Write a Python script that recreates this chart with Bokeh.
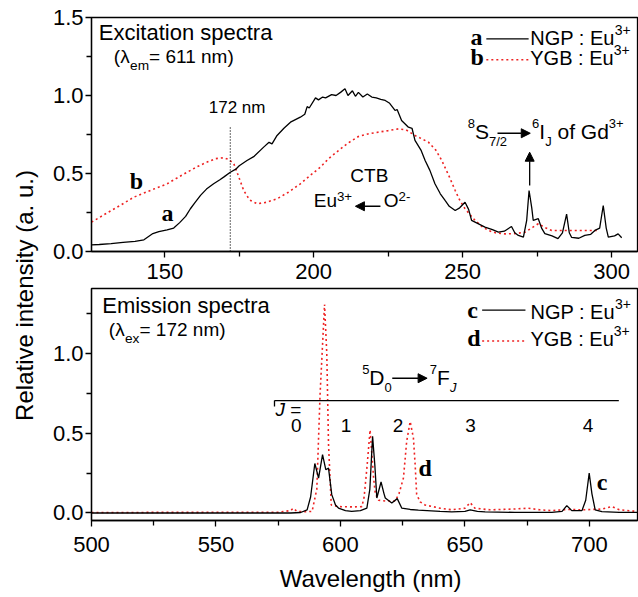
import math
from bokeh.plotting import figure
from bokeh.layouts import row, column
from bokeh.models import FixedTicker, Arrow, NormalHead, PrintfTickFormatter
from bokeh.core.properties import value
from bokeh.embed import file_html
from bokeh.resources import INLINE

# ---------------- data ----------------
# Excitation spectra (lambda_em = 611 nm)
exc_a_x = [125.4, 128, 132, 136, 140, 143, 146, 148, 150.8, 153, 155, 157, 158.6, 160, 162, 164,
           166.4, 168.5, 170, 172, 174, 175, 177.6, 180, 183.2, 185, 186, 187.7, 190, 192.2, 195.5,
           197, 197.8, 198.5, 200.6, 201.6, 203, 204, 206, 207.5, 209, 210.5, 211.5, 213, 214, 215,
           216.5, 218, 219.5, 221, 222.5, 224, 225.5, 227.3, 228, 229.5, 231.8, 233, 234, 236, 237.4,
           239, 240.7, 242.5, 244.1, 245.5, 247.5, 249, 250.8, 252, 253, 255, 257.5, 260, 262, 264,
           266.4, 267.5, 268.7, 270.4, 271.5, 272.3, 273.2, 273.7, 275.4, 276.5, 277.6, 280, 282,
           283.5, 284.9, 285.8, 286.6, 289, 291, 293, 294.4, 296, 297.2, 298.2, 298.9, 301, 302.2, 303.4]
exc_a_y = [0.043, 0.045, 0.050, 0.058, 0.065, 0.075, 0.115, 0.128, 0.139, 0.150, 0.185, 0.225, 0.274,
           0.31, 0.36, 0.40, 0.434, 0.46, 0.48, 0.508, 0.53, 0.55, 0.583, 0.61, 0.669, 0.70, 0.69,
           0.744, 0.79, 0.829, 0.861, 0.88, 0.929, 0.92, 0.985, 0.972, 0.99, 0.985, 1.006, 1.00, 1.02,
           1.043, 1.0, 1.03, 0.995, 1.02, 0.99, 1.01, 0.99, 0.985, 0.975, 0.968, 0.95, 0.904, 0.91,
           0.84, 0.797, 0.79, 0.712, 0.65, 0.583, 0.52, 0.434, 0.37, 0.327, 0.29, 0.263, 0.28, 0.316,
           0.27, 0.199, 0.18, 0.156, 0.14, 0.124, 0.13, 0.160, 0.12, 0.103, 0.092, 0.2, 0.391, 0.28,
           0.199, 0.21, 0.15, 0.115, 0.10, 0.083, 0.12, 0.24, 0.12, 0.09, 0.085, 0.103, 0.11, 0.135,
           0.15, 0.295, 0.15, 0.092, 0.10, 0.113, 0.088]

exc_b_x = [125.4, 130, 135, 139.6, 145, 150.8, 154, 157.5, 161, 164.2, 167, 169.8, 171.5, 173.2, 174.8,
           176.5, 178.5, 181, 184, 187.7, 191.5, 195.5, 199, 202.2, 205, 208.3, 211.5, 215, 218.5,
           221.7, 225, 228.4, 231, 234, 236, 238.5, 241, 243, 245.5, 247.5, 249, 250.8, 254.2, 256.5,
           258.6, 261, 264.2, 268, 271, 273.5, 275.4, 277.5, 279.9, 285, 291, 295]
exc_b_y = [0.188, 0.24, 0.295, 0.348, 0.39, 0.434, 0.47, 0.508, 0.545, 0.573, 0.595, 0.601, 0.59, 0.562,
           0.48, 0.391, 0.33, 0.306, 0.315, 0.338, 0.38, 0.434, 0.49, 0.540, 0.595, 0.647, 0.695,
           0.737, 0.755, 0.765, 0.775, 0.786, 0.78, 0.744, 0.725, 0.701, 0.65, 0.583, 0.48, 0.391,
           0.33, 0.274, 0.199, 0.16, 0.135, 0.12, 0.113, 0.115, 0.124, 0.155, 0.178, 0.155, 0.135,
           0.135, 0.135, 0.135]

# Emission spectra (lambda_ex = 172 nm)
em_c_x = [500, 580, 584, 586.6, 588, 589.7, 591.2, 592.8, 594.1, 595.2, 596.5, 598, 599.2, 602, 604.5,
          608, 610.6, 611.8, 612.9, 613.8, 614.6, 616.3, 617.5, 618, 620.6, 622.8, 624.6, 628, 631.3,
          640, 644.7, 650, 652.1, 655, 658.1, 670, 684.9, 689, 690.9, 692.9, 697, 698.5, 699.9, 701,
          702.3, 705, 712, 719.3]
em_c_y = [0.0, 0.0, 0.003, 0.02, 0.1, 0.31, 0.219, 0.365, 0.271, 0.281, 0.115, 0.05, 0.031, 0.015, 0.01,
          0.015, 0.03, 0.15, 0.48, 0.3, 0.094, 0.194, 0.12, 0.094, 0.0625, 0.09, 0.031, 0.022, 0.018,
          0.01, 0.007, 0.01, 0.02, 0.01, 0.007, 0.004, 0.004, 0.01, 0.046, 0.015, 0.015, 0.08, 0.25,
          0.12, 0.02, 0.008, 0.004, 0.004]

em_d_x = [500, 575, 580, 581, 582.5, 586, 588.6, 590.5, 591.8, 593.6, 594.5, 595.2, 596.3, 599.2, 605,
          608.6, 609.5, 610.6, 611.9, 613.3, 614, 615.3, 618, 622, 623.5, 625.3, 626.6, 628, 629.3,
          630, 630.6, 632, 634, 640, 644.7, 650, 652.1, 654, 660, 670, 675.5, 680, 684.9, 690.9,
          698.3, 705, 709, 712, 719.3]
em_d_y = [0.003, 0.005, 0.015, 0.03, 0.01, 0.008, 0.01, 0.15, 0.74, 1.306, 1.0, 0.43, 0.05, 0.04, 0.038,
          0.04, 0.1, 0.28, 0.52, 0.219, 0.12, 0.08, 0.075, 0.075, 0.12, 0.22, 0.45, 0.573, 0.469,
          0.3, 0.117, 0.07, 0.05, 0.03, 0.02, 0.03, 0.065, 0.03, 0.02, 0.025, 0.03, 0.02, 0.015,
          0.022, 0.02, 0.025, 0.04, 0.02, 0.01]

top_x_ticks = [150, 200, 250, 300]
top_x_minor = [175, 225, 275]
top_y_ticks = [0.0, 0.5, 1.0, 1.5]
top_y_minor = [0.25, 0.75, 1.25]
bot_x_ticks = [500, 550, 600, 650, 700]
bot_x_minor = [525, 575, 625, 675]
bot_y_ticks = [0.0, 0.5, 1.0]
bot_y_minor = [0.25, 0.75, 1.25]

excitation_line_nm = 172
transition_labels = ["0", "1", "2", "3", "4"]
transition_centers_nm = [582.3, 602.2, 623.1, 652.2, 699.4]

# ---------------- helpers ----------------
SANS = value("Liberation Sans")
SERIF = value("Liberation Serif")
RED = "#ee2222"
K = 0.37   # baseline correction (fraction of font size)

WID = {' ': 278, '(': 333, ')': 333, '=': 584, '.': 278, '/': 278, '+': 584, '-': 333, ':': 278,
       'A': 667, 'B': 667, 'C': 722, 'D': 722, 'E': 667, 'F': 611, 'G': 778, 'I': 278, 'J': 500,
       'N': 722, 'O': 778, 'P': 667, 'S': 667, 'T': 611, 'Y': 667, 'a': 556, 'd': 556, 'e': 556,
       'f': 278, 'm': 833, 'n': 556, 'o': 556, 'u': 556, 'x': 500, 'λ': 520}


def tw(s, fs):
    return sum(WID.get(ch, 556) for ch in s) / 1000.0 * fs


def rich(p, x, y, segs, size, raise_=0.5, drop=0.36, small=0.66):
    off = 0.0
    for seg in segs:
        t, kind = seg[0], seg[1]
        style = seg[2] if len(seg) > 2 else "normal"
        if kind == "n":
            fs, dy = size, 0.0
        elif kind == "sup":
            fs, dy = size * small, -size * raise_
        else:
            fs, dy = size * small, size * drop
        lead = len(t) - len(t.lstrip(" "))
        off += tw(" " * lead, fs)
        t = t.lstrip(" ")
        p.text(x=[x], y=[y], text=[t], x_offset=off, y_offset=dy - K * fs, text_font=SANS,
               text_font_size=f"{fs:.1f}px", text_font_style=style, text_color="black",
               text_align="left", text_baseline="alphabetic")
        off += tw(t, fs)


def bold_letter(p, x, y, t):
    p.text(x=[x], y=[y], text=[t], y_offset=-K * 24, text_font=SERIF, text_font_style="bold",
           text_font_size="24px", text_color="black", text_align="left", text_baseline="alphabetic")


def arrow(p, x0, y0, x1, y1):
    p.add_layout(Arrow(end=NormalHead(size=9, line_color="black", fill_color="black", line_width=1),
                       x_start=x0, y_start=y0, x_end=x1, y_end=y1, line_color="black", line_width=1.3))


def style(p, xt, xm, yt, ym, xstand):
    p.outline_line_color = "black"
    p.outline_line_width = 1.3
    p.grid.visible = False
    p.xaxis.ticker = FixedTicker(ticks=xt, minor_ticks=xm)
    p.yaxis.ticker = FixedTicker(ticks=yt, minor_ticks=ym)
    p.yaxis.formatter = PrintfTickFormatter(format="%.1f")
    for ax in list(p.xaxis) + list(p.yaxis):
        ax.axis_line_color = "black"
        ax.axis_line_width = 1.3
        ax.major_tick_line_color = "black"
        ax.minor_tick_line_color = "black"
        ax.major_tick_line_width = 1.3
        ax.minor_tick_line_width = 1.3
        ax.major_tick_in = 0
        ax.minor_tick_in = 0
        ax.major_tick_out = 6
        ax.minor_tick_out = 5
        ax.major_label_text_font = "Liberation Sans"
        ax.major_label_text_font_size = "22px"
        ax.major_label_text_color = "black"
    p.xaxis.major_label_standoff = xstand
    p.yaxis.major_label_standoff = 2


def strip(w, h):
    s = figure(width=w, height=h, x_range=(0, w), y_range=(0, h), min_border=0,
               outline_line_color=None, toolbar_location=None, output_backend="svg",
               x_axis_type=None, y_axis_type=None)
    s.grid.visible = False
    return s


# ---------------- y-axis title strip ----------------
lab = strip(40, 597)
lab.text(x=[24], y=[302], text=["Relative intensity (a. u.)"], angle=math.pi / 2,
         text_align="center", text_baseline="middle", text_font=SANS, text_font_size="24px",
         text_color="black")

# ---------------- top: excitation ----------------
top = figure(width=598, height=287, x_range=(125.4, 308.7), y_range=(0, 1.5),
             min_border_left=51, min_border_right=1, min_border_top=17, min_border_bottom=36,
             toolbar_location=None, output_backend="svg")
style(top, top_x_ticks, top_x_minor, top_y_ticks, top_y_minor, 6)

top.line(exc_b_x, exc_b_y, line_color=RED, line_width=1.6, line_dash="2 3")
top.line(exc_a_x, exc_a_y, line_color="black", line_width=1.3)
top.segment(x0=[excitation_line_nm], y0=[0], x1=[excitation_line_nm], y1=[0.808],
            line_color="black", line_width=1.2, line_dash="1 2")

rich(top, 127.85, 1.3526, [("Excitation spectra", "n")], 22)
rich(top, 132.9, 1.203, [("(λ", "n"), ("em", "sub"), ("= 611 nm)", "n")], 19, small=0.72)
rich(top, 164.77, 0.8827, [("172 nm", "n")], 17)
bold_letter(top, 138.26, 0.3955, "b")
bold_letter(top, 148.9, 0.1878, "a")
rich(top, 212.3, 0.444, [("CTB", "n")], 19)
rich(top, 200.0, 0.284, [("Eu", "n"), ("3+", "sup")], 19, raise_=0.32, small=0.7)
arrow(top, 222.4, 0.29, 214.0, 0.29)
rich(top, 223.5, 0.284, [("O", "n"), ("2-", "sup")], 19, raise_=0.32, small=0.7)
rich(top, 251.7, 0.7224, [("8", "sup"), ("S", "n"), ("7/2", "sub")], 21, small=0.62)
arrow(top, 261.7, 0.758, 272.7, 0.758)
rich(top, 273.3, 0.7224, [("6", "sup"), ("I", "n"), ("J", "sub"), (" of Gd", "n"), ("3+", "sup")],
     21, small=0.62)
arrow(top, 272.5, 0.423, 272.5, 0.6365)

# legend
bold_letter(top, 252.6, 1.3205, "a")
top.segment(x0=[257.95], y0=[1.3635], x1=[272.15], y1=[1.3635], line_color="black", line_width=1.3)
rich(top, 272.7, 1.3205, [("NGP : Eu", "n"), ("3+", "sup")], 20, small=0.7)
bold_letter(top, 252.6, 1.1923, "b")
top.segment(x0=[257.95], y0=[1.2288], x1=[272.15], y1=[1.2288], line_color=RED, line_width=1.6,
            line_dash="2 3")
rich(top, 272.7, 1.1923, [("YGB : Eu", "n"), ("3+", "sup")], 20, small=0.7)

# ---------------- bottom: emission ----------------
bot = figure(width=598, height=275, x_range=(500, 719.3), y_range=(-0.047, 1.406),
             min_border_left=51, min_border_right=1, min_border_top=1, min_border_bottom=42,
             toolbar_location=None, output_backend="svg")
style(bot, bot_x_ticks, bot_x_minor, bot_y_ticks, bot_y_minor, 10)

bot.line(em_d_x, em_d_y, line_color=RED, line_width=1.6, line_dash="2 3")
bot.line(em_c_x, em_c_y, line_color="black", line_width=1.3)

rich(bot, 504.3, 1.25, [("Emission spectra", "n")], 22)
rich(bot, 506.95, 1.104, [("(λ", "n"), ("ex", "sub"), ("= 172 nm)", "n")], 19, small=0.72)

bold_letter(bot, 650.9, 1.215, "c")
bot.segment(x0=[656.9], y0=[1.271], x1=[674.3], y1=[1.271], line_color="black", line_width=1.3)
rich(bot, 676.3, 1.215, [("NGP : Eu", "n"), ("3+", "sup")], 20, small=0.7)
bold_letter(bot, 650.9, 1.042, "d")
bot.segment(x0=[656.9], y0=[1.0775], x1=[674.3], y1=[1.0775], line_color=RED, line_width=1.6,
            line_dash="2 3")
rich(bot, 676.3, 1.042, [("YGB : Eu", "n"), ("3+", "sup")], 20, small=0.7)

rich(bot, 608.7, 0.8025, [("5", "sup"), ("D", "n"), ("0", "sub")], 21, small=0.62)
arrow(bot, 620.8, 0.844, 634.8, 0.844)
rich(bot, 635.9, 0.8025, [("7", "sup"), ("F", "n"), ("J", "sub", "italic")], 21, small=0.62)

bot.segment(x0=[573.5, 573.5], y0=[0.704, 0.704], x1=[711.8, 573.5], y1=[0.704, 0.667],
            line_color="black", line_width=1.3)
rich(bot, 573.9, 0.604, [("J", "n", "italic"), (" =", "n")], 19)
bot.text(x=transition_centers_nm, y=[0.504] * len(transition_labels), text=transition_labels,
         y_offset=-K * 19, text_align="center", text_baseline="alphabetic", text_font=SANS,
         text_font_size="19px", text_color="black")

bold_letter(bot, 631.3, 0.229, "d")
bold_letter(bot, 702.9, 0.136, "c")

# ---------------- x-axis title strip ----------------
xlab = strip(598, 35)
xlab.text(x=[305.7], y=[19], text=["Wavelength (nm)"], text_align="center", text_baseline="middle",
          text_font=SANS, text_font_size="24px", text_color="black")

layout = row(lab, column(top, bot, xlab, spacing=0), spacing=0)
open("out.html", "w").write(file_html(layout, INLINE, title="Excitation and emission spectra"))
